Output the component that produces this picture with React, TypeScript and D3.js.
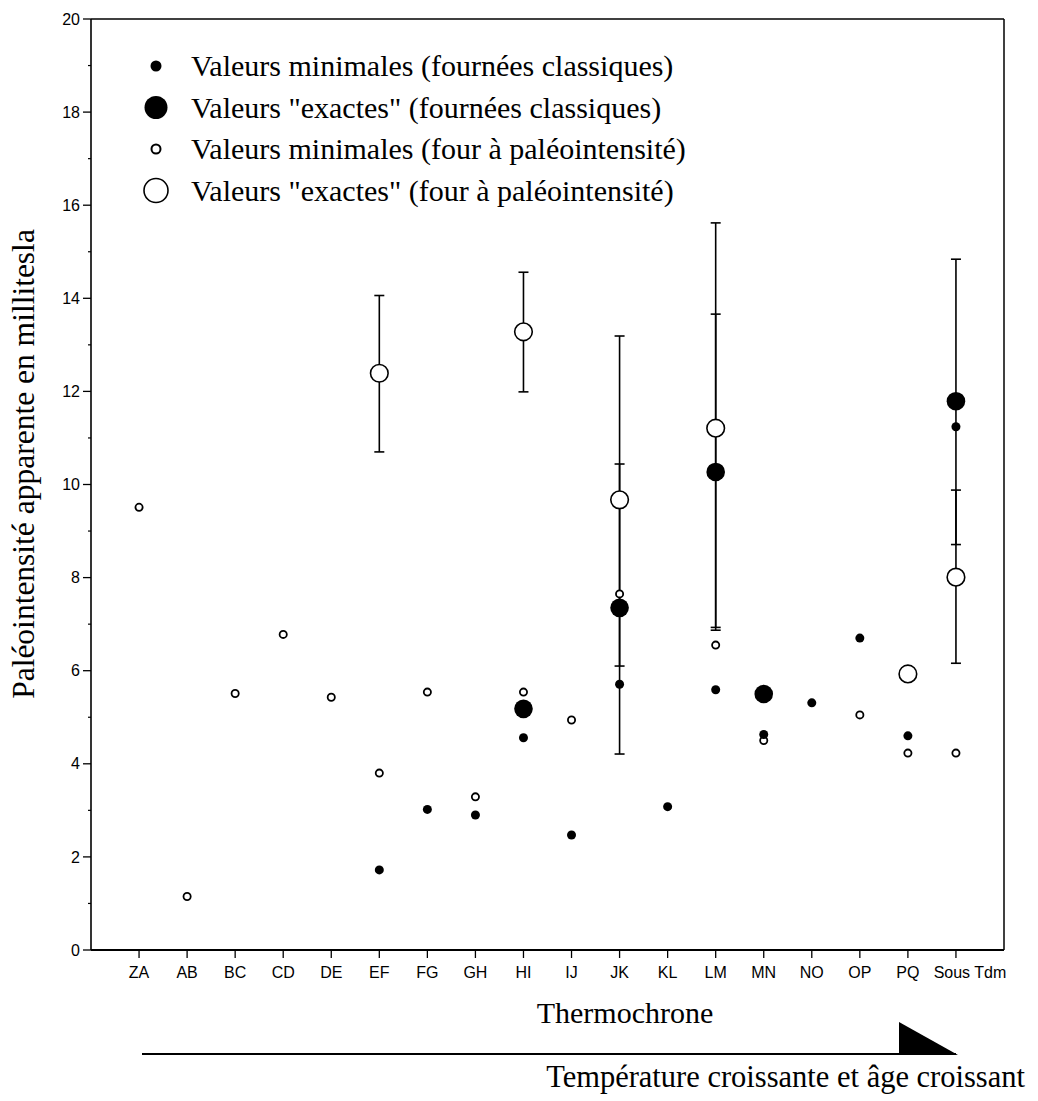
import React from "react";
import * as d3 from "d3";

const categories = ["ZA","AB","BC","CD","DE","EF","FG","GH","HI","IJ","JK","KL","LM","MN","NO","OP","PQ","Sous Tdm"];

// Valeurs minimales (fournées classiques)
const minClassique: [string, number][] = [
  ["EF",1.72],["FG",3.02],["GH",2.90],["HI",4.56],["IJ",2.47],["JK",5.71],["KL",3.08],
  ["LM",5.59],["MN",4.63],["NO",5.31],["OP",6.70],["PQ",4.60],["Sous Tdm",11.24],
];
// Valeurs "exactes" (fournées classiques)
const exactClassique: [string, number][] = [
  ["HI",5.18],["JK",7.35],["LM",10.27],["MN",5.50],["Sous Tdm",11.79],
];
// Valeurs minimales (four à paléointensité)
const minFour: [string, number][] = [
  ["ZA",9.51],["AB",1.15],["BC",5.51],["CD",6.78],["DE",5.43],["EF",3.80],["FG",5.54],
  ["GH",3.29],["HI",5.54],["IJ",4.94],["JK",7.65],["LM",6.55],["MN",4.50],["OP",5.05],
  ["PQ",4.23],["Sous Tdm",4.23],
];
// Valeurs "exactes" (four à paléointensité)
const exactFour: [string, number][] = [
  ["EF",12.39],["HI",13.28],["JK",9.67],["LM",11.21],["PQ",5.93],["Sous Tdm",8.01],
];
// Barres d'erreur [catégorie, min, max]
const errorBars: [string, number, number][] = [
  ["EF",10.70,14.06],["HI",11.99,14.56],
  ["JK",4.21,10.44],["JK",6.10,13.19],
  ["LM",6.87,13.66],["LM",6.93,15.62],
  ["Sous Tdm",6.16,9.88],["Sous Tdm",8.71,14.84],
];
const yTicks = [0,2,4,6,8,10,12,14,16,18,20];
const yMinorTicks = [1,3,5,7,9,11,13,15,17,19];
const legendItems = [
  'Valeurs minimales (fournées classiques)',
  'Valeurs "exactes" (fournées classiques)',
  'Valeurs minimales (four à paléointensité)',
  'Valeurs "exactes" (four à paléointensité)',
];

const SERIF = "'Liberation Serif', 'Times New Roman', serif";
const SANS = "'Liberation Sans', Arial, sans-serif";

export default function App() {
  const W = 1038, H = 1101;
  const x = d3.scaleLinear().domain([0, 19]).range([91, 1004]);
  const y = d3.scaleLinear().domain([0, 20]).range([950, 19]);
  const xc = (c: string) => x(categories.indexOf(c) + 1);
  const legendY = (i: number) => 66 + 41.5 * i;

  return (
    <svg width={W} height={H} style={{ position: "absolute", left: 0, top: 0, background: "#fff" }}>
      <rect x={0} y={0} width={W} height={H} fill="#fff" />
      {/* frame */}
      <line x1={x(0)} x2={x(19)} y1={y(20)} y2={y(20)} stroke="#000" strokeWidth={1.5} />
      <line x1={x(19)} x2={x(19)} y1={y(20)} y2={y(0)} stroke="#000" strokeWidth={1.5} />
      <line x1={x(0)} x2={x(0)} y1={y(20)} y2={y(0)} stroke="#000" strokeWidth={1.6} />
      <line x1={x(0)} x2={x(19)} y1={y(0)} y2={y(0)} stroke="#000" strokeWidth={2} />

      {/* y ticks */}
      {yTicks.map(t => (
        <g key={"yt" + t}>
          <line x1={x(0) - 8} x2={x(0)} y1={y(t)} y2={y(t)} stroke="#000" strokeWidth={1.3} />
          <text x={x(0) - 11} y={y(t)} dy="0.35em" textAnchor="end" fontFamily={SANS} fontSize={16}>{t}</text>
        </g>
      ))}
      {yMinorTicks.map(t => (
        <line key={"ym" + t} x1={x(0) - 3} x2={x(0)} y1={y(t)} y2={y(t)} stroke="#000" strokeWidth={1.2} />
      ))}

      {/* x ticks */}
      {categories.map((c, i) => (
        <g key={"xt" + c}>
          <line x1={x(i + 1)} x2={x(i + 1)} y1={y(0)} y2={y(0) + 8} stroke="#000" strokeWidth={1.3} />
          <text x={x(i + 1) + (c === "Sous Tdm" ? 14 : 0)} y={y(0) + 28} textAnchor="middle" fontFamily={SANS} fontSize={16}>{c}</text>
        </g>
      ))}

      {/* error bars */}
      {errorBars.map(([c, lo, hi], i) => (
        <g key={"eb" + i} stroke="#000" strokeWidth={1.6}>
          <line x1={xc(c)} x2={xc(c)} y1={y(lo)} y2={y(hi)} />
          <line x1={xc(c) - 5} x2={xc(c) + 5} y1={y(lo)} y2={y(lo)} />
          <line x1={xc(c) - 5} x2={xc(c) + 5} y1={y(hi)} y2={y(hi)} />
        </g>
      ))}

      {/* points */}
      {exactFour.map(([c, v]) => (
        <circle key={"ef" + c} cx={xc(c)} cy={y(v)} r={8.8} fill="#fff" stroke="#000" strokeWidth={1.6} />
      ))}
      {exactClassique.map(([c, v]) => (
        <circle key={"ec" + c} cx={xc(c)} cy={y(v)} r={9.3} fill="#000" />
      ))}
      {minFour.map(([c, v]) => (
        <circle key={"mf" + c} cx={xc(c)} cy={y(v)} r={3.6} fill="#fff" stroke="#000" strokeWidth={1.8} />
      ))}
      {minClassique.map(([c, v]) => (
        <circle key={"mc" + c} cx={xc(c)} cy={y(v)} r={4.5} fill="#000" />
      ))}

      {/* legend */}
      <circle cx={156} cy={legendY(0)} r={5.5} fill="#000" />
      <circle cx={156} cy={legendY(1)} r={11.5} fill="#000" />
      <circle cx={156} cy={legendY(2)} r={4.5} fill="#fff" stroke="#000" strokeWidth={2} />
      <circle cx={156} cy={legendY(3)} r={12} fill="#fff" stroke="#000" strokeWidth={1.6} />
      {legendItems.map((t, i) => (
        <text key={"lg" + i} x={191} y={legendY(i) + 10} fontFamily={SERIF} fontSize={30}>{t}</text>
      ))}

      {/* axis titles */}
      <text transform={`translate(34, 464) rotate(-90)`} textAnchor="middle" fontFamily={SERIF} fontSize={31.5}>
        Paléointensité apparente en millitesla
      </text>
      <text x={625} y={1023} textAnchor="middle" fontFamily={SERIF} fontSize={30}>Thermochrone</text>

      {/* arrow */}
      <line x1={142} x2={956} y1={1054} y2={1054} stroke="#000" strokeWidth={2} />
      <polygon points="899,1022 899,1055 958,1055" fill="#000" />
      <text x={1025} y={1087} textAnchor="end" fontFamily={SERIF} fontSize={30.5}>Température croissante et âge croissant</text>
    </svg>
  );
}
